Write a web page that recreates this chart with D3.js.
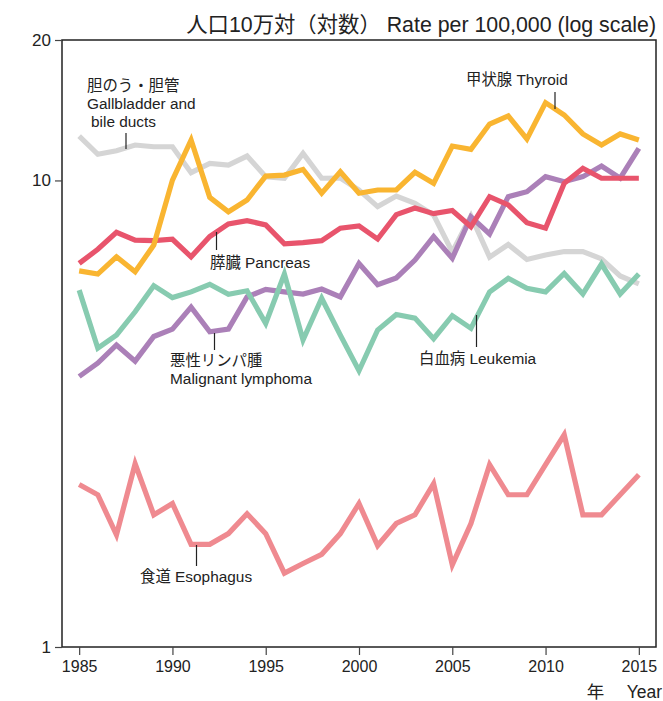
<!DOCTYPE html>
<html><head><meta charset="utf-8">
<script src="https://cdn.jsdelivr.net/npm/d3@7"></script>
<style>
html,body{margin:0;padding:0;background:#fff;}
text{font-family:"Liberation Sans","Noto Sans CJK JP",sans-serif;fill:#222;}
</style></head>
<body><svg id="chart" width="663" height="701"></svg>
<script>
const years = d3.range(1985, 2016);
const gallbladder = [12.45,11.38,11.58,11.91,11.81,11.81,10.39,10.88,10.79,11.28,10.19,10.11,11.43,10.11,10.12,9.54,8.79,9.26,8.93,8.43,7.03,8.39,6.85,7.29,6.77,6.92,7.04,7.04,6.79,6.24,6.00];
const thyroid = [6.40,6.30,6.86,6.37,7.27,10.02,12.21,9.20,8.57,9.08,10.22,10.27,10.56,9.39,10.44,9.39,9.54,9.54,10.41,9.86,11.85,11.66,13.21,13.75,12.27,14.68,13.81,12.58,11.91,12.58,12.21];
const pancreas = [6.64,7.12,7.74,7.45,7.43,7.48,6.86,7.58,8.07,8.20,8.03,7.31,7.36,7.43,7.90,7.99,7.49,8.45,8.73,8.49,8.62,7.96,9.23,8.86,8.12,7.90,9.86,10.62,10.11,10.11,10.11];
const lymphoma = [3.80,4.06,4.44,4.10,4.63,4.80,5.35,4.74,4.80,5.63,5.84,5.77,5.71,5.85,5.63,6.64,5.98,6.18,6.75,7.58,6.81,8.36,7.68,9.23,9.46,10.19,9.94,10.19,10.74,10.11,11.72];
const leukemia = [5.82,4.37,4.66,5.23,5.95,5.61,5.77,5.99,5.70,5.80,4.94,6.30,4.55,5.59,4.66,3.91,4.78,5.16,5.07,4.58,5.13,4.82,5.77,6.17,5.87,5.77,6.32,5.71,6.62,5.71,6.30];
const esophagus = [2.23,2.12,1.74,2.47,1.92,2.03,1.66,1.66,1.75,1.93,1.75,1.44,1.51,1.58,1.75,2.03,1.65,1.84,1.92,2.24,1.50,1.84,2.46,2.12,2.12,2.46,2.85,1.92,1.92,2.12,2.34];
const xTicks = [1985,1990,1995,2000,2005,2010,2015];
const yTicks = [1,10,20];

const seriesList = [
  {name:"gallbladder", values:gallbladder, color:"#d5d5d5"},
  {name:"esophagus", values:esophagus, color:"#ef8a90"},
  {name:"lymphoma", values:lymphoma, color:"#ab80b8"},
  {name:"leukemia", values:leukemia, color:"#87cbb0"},
  {name:"pancreas", values:pancreas, color:"#e8546c"},
  {name:"thyroid", values:thyroid, color:"#f9b531"}
];

const svg = d3.select("#chart");
const x = d3.scaleLinear().domain([1984.08, 2015.92]).range([62, 656]);
const y = d3.scaleLog().domain([1, 20]).range([647, 40]);

// frame
svg.append("rect").attr("x", x.range()[0]).attr("y", y.range()[1])
  .attr("width", x.range()[1]-x.range()[0]).attr("height", y.range()[0]-y.range()[1])
  .attr("fill","none").attr("stroke","#222").attr("stroke-width",1.5);

// y axis
const yAxis = d3.axisLeft(y).tickValues(yTicks).tickFormat(d3.format("d")).tickSize(7).tickPadding(4);
const gy = svg.append("g").attr("transform", `translate(${x.range()[0]},0)`).call(yAxis);
gy.select(".domain").remove();
gy.selectAll("line").attr("stroke","#444").attr("stroke-width",1.2);
gy.selectAll("text").style("font-size","17px").style("font-family","Liberation Sans").attr("fill","#222");

// x axis
const xAxis = d3.axisBottom(x).tickValues(xTicks).tickFormat(d3.format("d")).tickSize(8).tickPadding(6);
const gx = svg.append("g").attr("transform", `translate(0,${y.range()[0]})`).call(xAxis);
gx.select(".domain").remove();
gx.selectAll("line").attr("stroke","#444").attr("stroke-width",1.2);
gx.selectAll("text").style("font-size","16px").style("font-family","Liberation Sans").attr("fill","#222");

// lines
const line = d3.line().x((d,i)=>x(years[i])).y(d=>y(d));
seriesList.forEach(s=>{
  svg.append("path").datum(s.values).attr("d", line)
    .attr("fill","none").attr("stroke", s.color).attr("stroke-width",5.2)
    .attr("stroke-linejoin","miter").attr("stroke-miterlimit",4);
});

// title, fitted to the reference width
const title = svg.append("text").attr("x",656).attr("y",32).attr("text-anchor","end")
  .style("font-size","18px").text("人口10万対（対数） Rate per 100,000 (log scale)");
const tw = title.node().getComputedTextLength();
title.style("font-size", (18*470/tw).toFixed(2)+"px");

svg.append("text").attr("x",662).attr("y",698).attr("text-anchor","end")
  .style("font-size","17.5px").text("年　 Year");

// labels with leader lines
function label(lines, tx, ty, lx, ly1, ly2, lh=18){
  lines.forEach((l,i)=>{
    svg.append("text").attr("x", tx + (l.dx||0)).attr("y", ty + i*lh)
      .style("font-size","15.4px").text(l.t);
  });
  svg.append("line").attr("x1",lx).attr("x2",lx).attr("y1",ly1).attr("y2",ly2).attr("stroke","#222").attr("stroke-width",1.2);
}
label([{t:"胆のう・胆管"},{t:"Gallbladder and"},{t:"bile ducts",dx:4}], 87, 91, 126, 133, 149);
label([{t:"甲状腺 Thyroid"}], 466, 85, 555, 92, 109);
label([{t:"膵臓 Pancreas"}], 210, 268, 216.5, 232, 250);
label([{t:"悪性リンパ腫"},{t:"Malignant lymphoma"}], 170, 366, 214.5, 333, 350);
label([{t:"白血病 Leukemia"}], 419, 364, 476.5, 315, 347);
label([{t:"食道 Esophagus"}], 140, 582, 196.5, 545, 566);
</script></body></html>
